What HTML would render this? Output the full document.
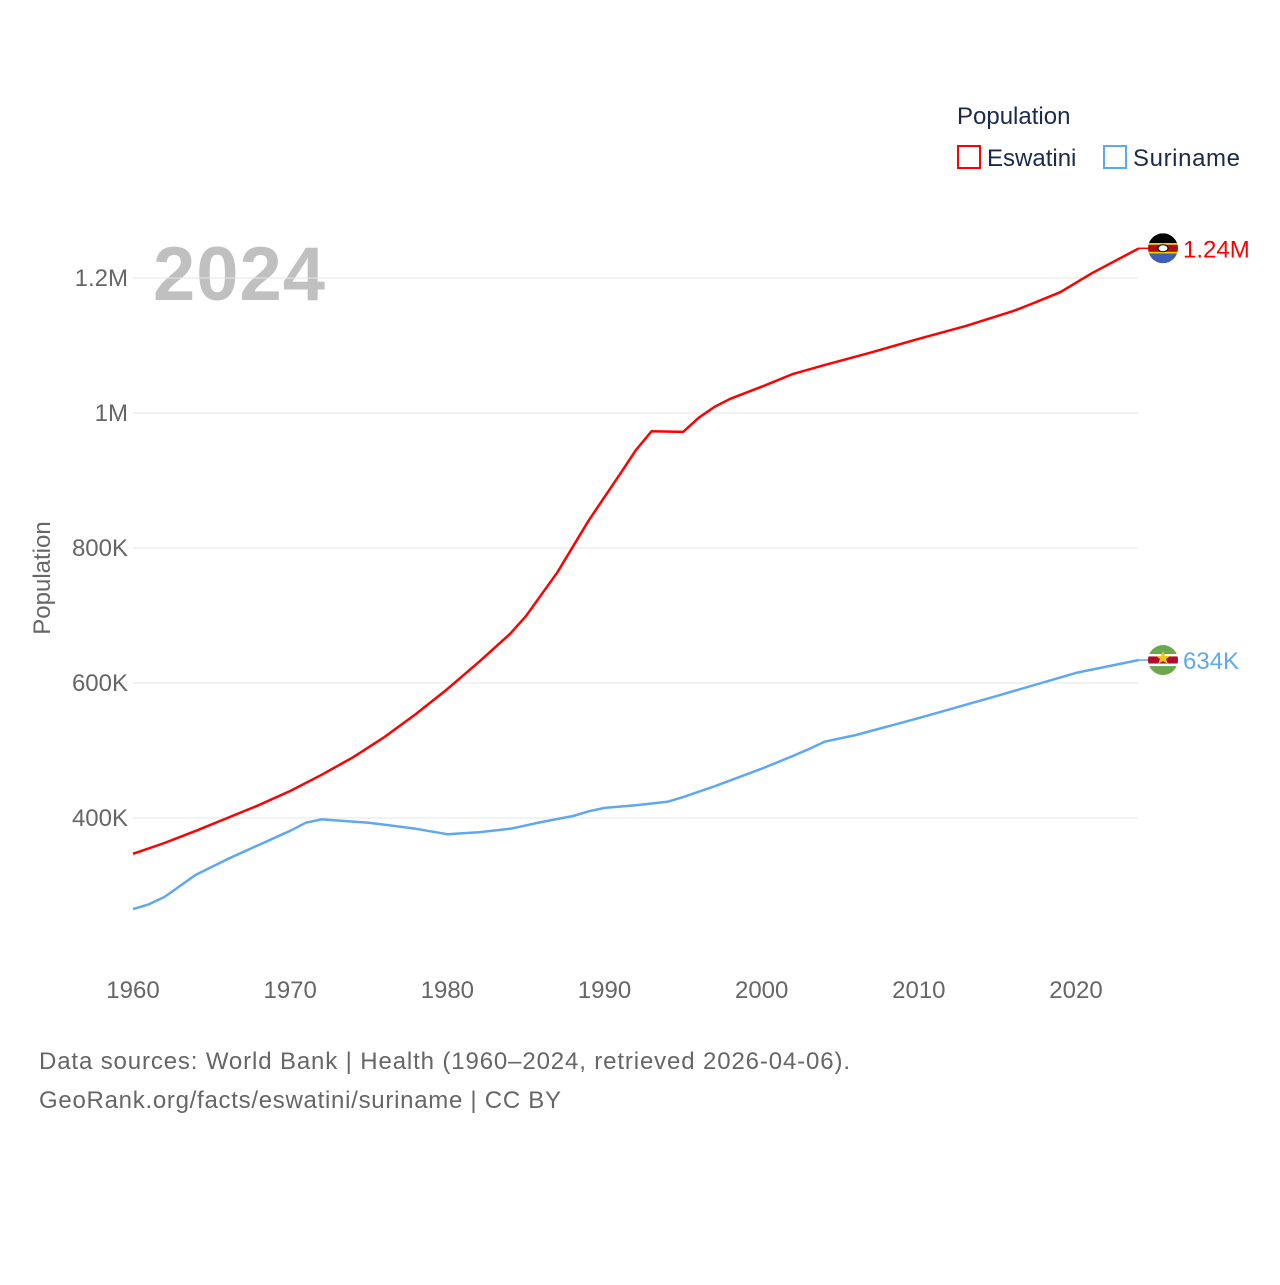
<!DOCTYPE html>
<html><head><meta charset="utf-8">
<style>
html,body{margin:0;padding:0;background:#fff;}
body{width:1280px;height:1280px;overflow:hidden;font-family:"Liberation Sans",sans-serif;}
</style></head>
<body>
<svg id="chart" width="1280" height="1280" xmlns="http://www.w3.org/2000/svg" font-family="Liberation Sans, sans-serif">
  <text x="957" y="124" font-size="24" fill="#1a2a4a">Population</text>
  <g>
    <rect x="958" y="146" width="22" height="22" fill="none" stroke="#ff0000" stroke-width="2"/>
    <text x="987" y="166" font-size="24" fill="#1a2a4a">Eswatini</text>
  </g>
  <g>
    <rect x="1104" y="146" width="22" height="22" fill="none" stroke="#5fa8ee" stroke-width="2"/>
    <text x="1133" y="166" font-size="24" fill="#1a2a4a" textLength="107">Suriname</text>
  </g>
  <text x="153" y="300" font-size="76" font-weight="bold" fill="#c0c0c0" textLength="172">2024</text>
  <text transform="translate(50,578) rotate(-90)" text-anchor="middle" font-size="24" fill="#666">Population</text>
  <g id="grid"></g>
  <g id="series"></g>
  <text x="39" y="1069" font-size="24" fill="#666" textLength="811">Data sources: World Bank | Health (1960–2024, retrieved 2026-04-06).</text>
  <text x="39" y="1108" font-size="24" fill="#666" textLength="522">GeoRank.org/facts/eswatini/suriname | CC BY</text>
</svg>
<script>
const yTicks=[400000,600000,800000,1000000,1200000];
const yTickLabels=["400K","600K","800K","1M","1.2M"];
const xTicks=[1960,1970,1980,1990,2000,2010,2020];
const eswYears=[1960,1962,1964,1966,1968,1970,1972,1974,1976,1978,1980,1982,1984,1985,1987,1989,1991,1992,1993,1995,1996,1997,1998,2000,2002,2004,2007,2010,2013,2016,2017,2019,2021,2024];
const eswValues=[347000,363000,381000,400000,419000,440000,464000,490000,520000,554000,591000,631000,673000,699000,764000,841000,910000,945000,973000,972000,993000,1009000,1021000,1039000,1058000,1071000,1090000,1110000,1129000,1151000,1160000,1179000,1207000,1244000];
const surYears=[1960,1961,1962,1964,1966,1968,1970,1971,1972,1975,1978,1980,1982,1984,1986,1988,1989,1990,1992,1994,1995,1997,2000,2002,2003,2004,2006,2010,2015,2020,2024];
const surValues=[265000,272000,283000,316000,339000,360000,381000,393000,398000,393000,384000,376000,379000,384000,394000,403000,410000,415000,419000,424000,431000,447000,473000,492000,502000,513000,523000,548000,581000,615000,634000];
const NS="http://www.w3.org/2000/svg";
const xs=yr=>133+(yr-1960)*(1076-133)/60;
const ys=v=>818-(v-400000)*135/200000;
function el(t,a,p){const e=document.createElementNS(NS,t);for(const k in a)e.setAttribute(k,a[k]);p.appendChild(e);return e;}
const grid=document.getElementById('grid');
yTicks.forEach((v,i)=>{
  const l=el('line',{x1:133,x2:1138,y1:ys(v),y2:ys(v),stroke:'#e6e6e6','stroke-width':1},grid);
  
  
  const t=el('text',{x:128,y:ys(v)+8,'text-anchor':'end','font-size':24,fill:'#666'},grid);
  t.textContent=yTickLabels[i];
  
  
});
xTicks.forEach(yr=>{
  const t=el('text',{x:xs(yr),y:998,'text-anchor':'middle','font-size':24,fill:'#666'},grid);
  t.textContent=yr;
  
  
});
const ser=document.getElementById('series');
function draw(years,vals,color,name,label,flag){
  const d=years.map((y,i)=>(i?'L':'M')+xs(y).toFixed(1)+' '+ys(vals[i]).toFixed(1)).join(' ');
  const p=el('path',{d:d,fill:'none',stroke:color,'stroke-width':2.5,'stroke-linejoin':'round'},ser);
  
  
  const lx=xs(years[years.length-1]), ly=ys(vals[vals.length-1]);
  el('line',{x1:lx,x2:1150,y1:ly,y2:ly,stroke:color,'stroke-width':1.5},ser);
  const g=el('g',{},ser);
  
  
  const cx=1163, r=15;
  const cid='clip-'+name;
  const cp=el('clipPath',{id:cid},g); el('circle',{cx:cx,cy:ly,r:r},cp);
  const gg=el('g',{'clip-path':'url(#'+cid+')'},g);
  flag.forEach(s=>el('rect',{x:cx-r,y:ly-r+s[0]*2*r,width:2*r,height:s[1]*2*r,fill:s[2]},gg));
  const t=el('text',{x:1183,y:ly+9,'font-size':24,fill:color},ser);
  t.textContent=label;
  
  
}
draw(eswYears,eswValues,'#ff0000','eswatini','1.24M',[[0,0.33,'#000'],[0.33,0.05,'#ffd900'],[0.38,0.24,'#b10c0c'],[0.62,0.05,'#ffd900'],[0.67,0.33,'#3e5eb9']]);
draw(surYears,surValues,'#5fa8ee','suriname','634K',[[0,0.3,'#6aa84f'],[0.3,0.08,'#fff'],[0.38,0.24,'#b40a2d'],[0.62,0.08,'#fff'],[0.7,0.3,'#6aa84f']]);
el('polygon',{points:'1163,651 1165,656 1170,656 1166,659 1168,664 1163,661 1158,664 1160,659 1156,656 1161,656',fill:'#ecc81d'},ser);
el('ellipse',{cx:1163,cy:ys(eswValues[eswValues.length-1]),rx:5,ry:3.5,fill:'#fff',stroke:'#000','stroke-width':1},ser);
</script>
</body></html>
